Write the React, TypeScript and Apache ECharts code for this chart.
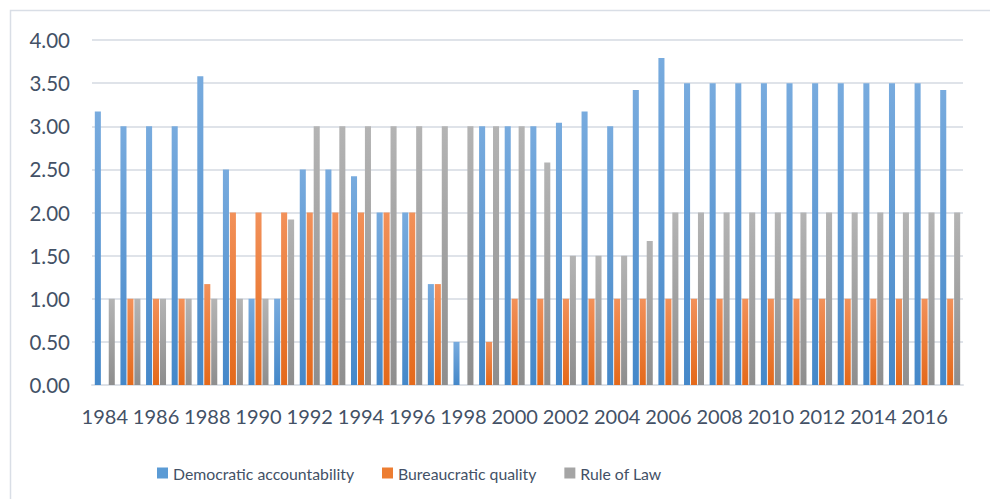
import React, { useEffect, useRef } from "react";
import * as echarts from "echarts";

const years = [
  "1984","1985","1986","1987","1988","1989","1990","1991","1992","1993",
  "1994","1995","1996","1997","1998","1999","2000","2001","2002","2003",
  "2004","2005","2006","2007","2008","2009","2010","2011","2012","2013",
  "2014","2015","2016","2017",
];

const democratic = [
  3.17, 3.0, 3.0, 3.0, 3.58, 2.5, 1.0, 1.0, 2.5, 2.5,
  2.42, 2.0, 2.0, 1.17, 0.5, 3.0, 3.0, 3.0, 3.04, 3.17,
  3.0, 3.42, 3.79, 3.5, 3.5, 3.5, 3.5, 3.5, 3.5, 3.5,
  3.5, 3.5, 3.5, 3.42,
];

const bureaucratic = [
  0, 1.0, 1.0, 1.0, 1.17, 2.0, 2.0, 2.0, 2.0, 2.0,
  2.0, 2.0, 2.0, 1.17, 0, 0.5, 1.0, 1.0, 1.0, 1.0,
  1.0, 1.0, 1.0, 1.0, 1.0, 1.0, 1.0, 1.0, 1.0, 1.0,
  1.0, 1.0, 1.0, 1.0,
];

const ruleOfLaw = [
  1.0, 1.0, 1.0, 1.0, 1.0, 1.0, 1.0, 1.92, 3.0, 3.0,
  3.0, 3.0, 3.0, 3.0, 3.0, 3.0, 3.0, 2.58, 1.5, 1.5,
  1.5, 1.67, 2.0, 2.0, 2.0, 2.0, 2.0, 2.0, 2.0, 2.0,
  2.0, 2.0, 2.0, 2.0,
];

const seriesNames = ["Democratic accountability", "Bureaucratic quality", "Rule of Law"];

const grad = (top: string, bottom: string) =>
  new echarts.graphic.LinearGradient(0, 0, 0, 1, [
    { offset: 0, color: top },
    { offset: 1, color: bottom },
  ]);

export default function App() {
  const ref = useRef<HTMLDivElement>(null);

  useEffect(() => {
    document.body.style.margin = "0";
    if (!ref.current) return;
    const chart = echarts.init(ref.current, undefined, { renderer: "svg" });
    const textColor = "#435166";
    const font = "Lato";
    const colors = [
      { top: "#78abde", bottom: "#4588c9", legend: "#5b9bd5" },
      { top: "#f2915a", bottom: "#e4691a", legend: "#ed7d31" },
      { top: "#b4b4b4", bottom: "#8e8e8e", legend: "#a5a5a5" },
    ];
    const datas = [democratic, bureaucratic, ruleOfLaw];
    chart.setOption({
      animation: false,
      backgroundColor: "#ffffff",
      graphic: [
        {
          type: "rect",
          shape: { x: 10.5, y: 10.5, width: 1100, height: 700 },
          style: { fill: "none", stroke: "#d9dee6", lineWidth: 1.5 },
          silent: true,
        },
      ],
      grid: { left: 92, right: 27, top: 40, bottom: 114, containLabel: false },
      legend: {
        left: 152,
        top: 460,
        itemWidth: 11,
        itemHeight: 11,
        itemGap: 28,
        icon: "rect",
        textStyle: { color: textColor, fontFamily: font, fontSize: 15.8 },
        data: seriesNames.map((n, i) => ({ name: n, itemStyle: { color: colors[i].legend } })),
      },
      xAxis: {
        type: "category",
        data: years,
        axisTick: { show: false },
        axisLine: { lineStyle: { color: "#dde1e7", width: 2 } },
        axisLabel: {
          interval: 1,
          hideOverlap: false,
          color: textColor,
          fontFamily: font,
          fontSize: 20,
          margin: 21,
        },
      },
      yAxis: {
        type: "value",
        min: 0,
        max: 4,
        interval: 0.5,
        axisLine: { show: false },
        axisTick: { show: false },
        splitLine: { lineStyle: { color: "#dfe3e9", width: 2 } },
        axisLabel: {
          color: textColor,
          fontFamily: font,
          fontSize: 20.5,
          margin: 22,
          formatter: (v: number) => v.toFixed(2),
        },
      },
      series: seriesNames.map((name, i) => ({
        name,
        type: "bar",
        data: datas[i],
        barGap: "15%",
        barCategoryGap: "22%",
        itemStyle: { color: grad(colors[i].top, colors[i].bottom) },
      })),
    });
    return () => chart.dispose();
  }, []);

  return <div ref={ref} style={{ width: 990, height: 499 }} />;
}
